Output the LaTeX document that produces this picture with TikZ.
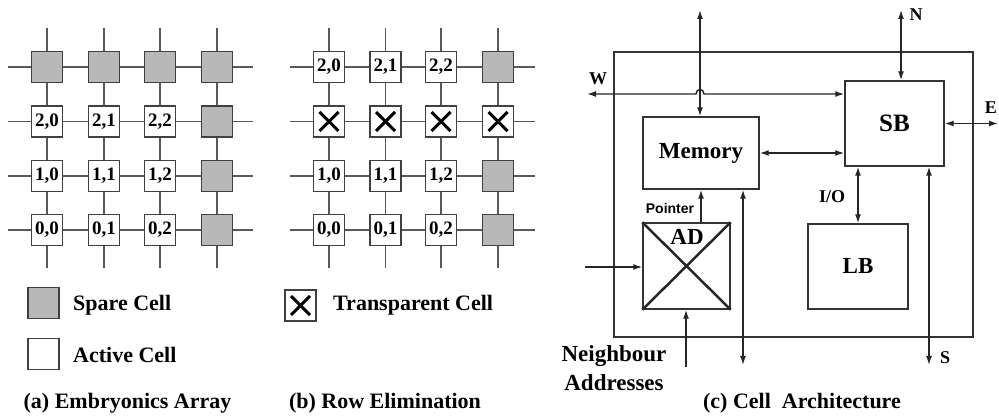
\documentclass[tikz,border=0pt]{standalone}
\usepackage{fontspec}
\setmainfont{Liberation Serif}
\setsansfont{Liberation Sans}
\usetikzlibrary{arrows.meta}
\definecolor{sparegray}{gray}{0.72}
\definecolor{cellborder}{gray}{0.25}
\definecolor{gridgray}{gray}{0.35}
\definecolor{linegray}{gray}{0.2}
\begin{document}
\begin{tikzpicture}[x=1pt,y=-1pt,
  cellbox/.style={draw=cellborder, line width=1.4pt, minimum width=31pt, minimum height=31pt, inner sep=0pt, fill=white, font=\bfseries\fontsize{19}{19}\selectfont},
  spare/.style={cellbox, fill=sparegray},
  tcell/.style={cellbox, path picture={
      \draw[line width=3pt, black]
        ([shift={(6pt,-6pt)}]path picture bounding box.north west) --
        ([shift={(-6pt,6pt)}]path picture bounding box.south east);
      \draw[line width=3pt, black]
        ([shift={(-6pt,-6pt)}]path picture bounding box.north east) --
        ([shift={(6pt,6pt)}]path picture bounding box.south west);}},
  gridline/.style={draw=gridgray, line width=1.3pt},
  blk/.style={draw=linegray, line width=1.4pt, inner sep=0pt, font=\bfseries\fontsize{23}{23}\selectfont},
  conn/.style={draw=black!85, line width=1.4pt},
  dbl/.style={conn, {Latex[length=9pt,width=6pt]}-{Latex[length=9pt,width=6pt]}},
  sgl/.style={conn, -{Latex[length=9pt,width=6pt]}},
  lbl/.style={font=\bfseries\fontsize{18}{18}\selectfont, inner sep=0pt},
  leg/.style={font=\bfseries\fontsize{22}{22}\selectfont, inner sep=0pt, anchor=west},
  captxt/.style={font=\bfseries\fontsize{22}{22}\selectfont, inner sep=0pt}
]
\useasboundingbox (0,0) rectangle (999,419);

% ---------- (a) Embryonics Array ----------
\foreach \y in {67,121.5,176,230} \draw[gridline] (8,\y) -- (253,\y);
\foreach \x in {47,104,160,217} \draw[gridline] (\x,28) -- (\x,268);
\foreach \x/\c in {47/0,104/1,160/2,217/3} \node[spare] (as\c) at (\x,67) {};
\foreach \y/\r in {121.5/2,176/1,230/0}{
  \foreach \x/\c in {47/0,104/1,160/2}
    \node[cellbox] (a\r\c) at (\x,\y) {\r,\c};
  \node[spare] (a\r3) at (217,\y) {};
}

% ---------- (b) Row Elimination ----------
\foreach \y in {67,121.5,176,230} \draw[gridline] (290,\y) -- (535,\y);
\foreach \x in {329,385.5,441,498} \draw[gridline] (\x,28) -- (\x,268);
\foreach \x/\c in {329/0,385.5/1,441/2}
  \node[cellbox] (b2\c) at (\x,67) {2,\c};
\node[spare] (b23) at (498,67) {};
\foreach \x/\c in {329/0,385.5/1,441/2,498/3}
  \node[tcell] (bt\c) at (\x,121.5) {};
\foreach \y/\r in {176/1,230/0}{
  \foreach \x/\c in {329/0,385.5/1,441/2}
    \node[cellbox] (b\r\c) at (\x,\y) {\r,\c};
  \node[spare] (b\r3) at (498,\y) {};
}

% ---------- legends ----------
\node[spare] (legspare) at (43.5,303) {};
\node[leg] (legspareT) at (73,305) {Spare Cell};
\node[cellbox] (legactive) at (43.5,354) {};
\node[leg] (legactiveT) at (73,355) {Active Cell};
\node[tcell] (legtrans) at (300.5,305.5) {};
\node[leg] (legtransT) at (333,305) {Transparent Cell};

\node[captxt] (capa) at (127.5,403) {(a) Embryonics Array};
\node[captxt] (capb) at (385,403) {(b) Row Elimination};

% ---------- (c) Cell Architecture ----------
\node[blk, minimum width=359pt, minimum height=285pt] (outer) at (793.5,194.5) {};
\node[blk, minimum width=116pt, minimum height=72pt] (mem) at (701,153) {Memory};
\node[blk, minimum width=99pt, minimum height=85pt, font=\bfseries\fontsize{25}{25}\selectfont] (sb) at (894.5,123.5) {SB};
\node[blk, minimum width=87pt, minimum height=86pt] (ad) at (686.5,266) {};
\draw[line width=2.5pt, black!85] (ad.north west) -- (ad.south east);
\draw[line width=2.5pt, black!85] (ad.north east) -- (ad.south west);
\node[blk, draw=none, fill=none] (adT) at (687,237) {AD};
\node[blk, minimum width=100pt, minimum height=85pt] (lb) at (858,266.5) {LB};

\coordinate (memtop) at (700,10);
\draw[dbl] (memtop) -- (memtop |- mem.north);
\coordinate (wend) at (587,94);
\draw[dbl] (wend) -- (696,94) .. controls (696,88) and (704,88) .. (704,94) -- (wend -| sb.west);
\coordinate (nend) at (901,10);
\draw[dbl] (nend) -- (nend |- sb.north);
\coordinate (eend) at (998,123.5);
\draw[dbl] (sb.east) -- (eend);
\draw[dbl] (mem.east) -- (mem.east -| sb.west);
\draw[dbl] (lb.north |- sb.south) -- (lb.north);
\coordinate (send) at (929,365);
\draw[dbl] (send |- sb.south) -- (send);
\coordinate (mend) at (743,365);
\draw[dbl] (mend |- mem.south) -- (mend);
\coordinate (ptr) at (701,0);
\draw[sgl] (ptr |- ad.north) -- (ptr |- mem.south);
\coordinate (lend) at (585,267);
\draw[sgl] (lend) -- (lend -| ad.west);
\coordinate (bend) at (686,367);
\draw[sgl] (bend) -- (bend |- ad.south);

\node[lbl] (Wl) at (598,79) {W};
\node[lbl] (Nl) at (916,15) {N};
\node[lbl, anchor=east] (El) at (997,108) {E};
\node[lbl] (IOl) at (832,197) {I/O};
\node[lbl] (Sl) at (945,358) {S};
\node[font=\sffamily\bfseries\fontsize{14}{14}\selectfont, inner sep=0pt] (ptrl) at (670,208) {Pointer};
\node[captxt, align=center, font=\bfseries\fontsize{23}{29}\selectfont] (nbr) at (614,368.5) {Neighbour\\Addresses};
\node[captxt] (capc) at (802,403) {(c) Cell\ \ Architecture};
\end{tikzpicture}
\end{document}
